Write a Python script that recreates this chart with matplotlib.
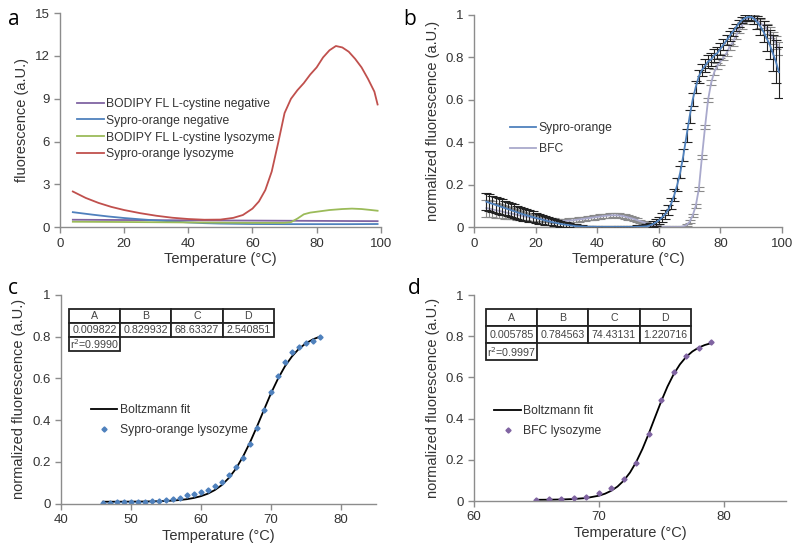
import numpy as np
import matplotlib
matplotlib.use("Agg")
import matplotlib.pyplot as plt

plt.rcParams['font.family'] = ['Liberation Sans', 'DejaVu Sans']

# ---- panel a: raw fluorescence ----
t_red = [4, 8, 12, 16, 20, 25, 30, 35, 40, 45, 50, 54, 57, 60, 62, 64, 66, 68, 70, 72,
         74, 76, 78, 80, 82, 84, 86, 88, 90, 92, 94, 96, 98, 99]
sypro_lys = [2.5, 2.05, 1.7, 1.42, 1.2, 0.98, 0.8, 0.66, 0.57, 0.52, 0.53, 0.65, 0.85, 1.3,
             1.8, 2.6, 3.9, 5.9, 8.0, 9.0, 9.6, 10.1, 10.7, 11.2, 11.9, 12.4, 12.7, 12.6,
             12.3, 11.8, 11.2, 10.4, 9.5, 8.6]
t_blue = [4, 10, 15, 20, 25, 30, 35, 40, 45, 50, 60, 70, 80, 90, 99]
sypro_neg = [1.05, 0.88, 0.75, 0.64, 0.55, 0.47, 0.4, 0.33, 0.28, 0.25, 0.22, 0.21, 0.21, 0.21, 0.22]
t_purple = [4, 20, 40, 60, 80, 99]
bodipy_neg = [0.52, 0.5, 0.48, 0.46, 0.44, 0.42]
t_green = [4, 20, 40, 60, 70, 72, 74, 76, 78, 80, 84, 88, 91, 94, 97, 99]
bodipy_lys = [0.38, 0.36, 0.33, 0.3, 0.3, 0.35, 0.6, 0.9, 1.02, 1.08, 1.2, 1.27, 1.3, 1.27, 1.2, 1.15]

# ---- panel b: normalized, mean +- error, 4..99 C ----
t_b = list(range(4, 100))
sypro_b = [0.12, 0.115, 0.11, 0.105, 0.10, 0.095, 0.09, 0.085, 0.08, 0.075, 0.07, 0.065,
           0.06, 0.056, 0.052, 0.048, 0.044, 0.04, 0.036, 0.032, 0.028, 0.025, 0.022, 0.019,
           0.016, 0.013, 0.011, 0.009, 0.007, 0.005, 0.004, 0.003,
           0.002, 0.002, 0.002, 0.002, 0.001, 0.001, 0.001, 0.001, 0.001, 0.001,
           0.001, 0.001, 0.001, 0.001, 0.001, 0.001, 0.001, 0.002, 0.002, 0.003,
           0.004, 0.008, 0.014, 0.022, 0.032, 0.045, 0.06, 0.08, 0.11, 0.15, 0.2, 0.26,
           0.34, 0.43, 0.52, 0.6, 0.66, 0.71, 0.74, 0.76, 0.78, 0.79, 0.81, 0.82, 0.84,
           0.86, 0.88, 0.9, 0.92, 0.94, 0.96, 0.975, 0.985, 0.99, 0.99, 0.98, 0.965,
           0.945, 0.92, 0.89, 0.86, 0.82, 0.78, 0.73]
sypro_err = [0.04, 0.04, 0.039, 0.038, 0.037, 0.036, 0.035, 0.034, 0.033, 0.032, 0.031,
             0.03, 0.029, 0.028, 0.027, 0.026, 0.025, 0.024, 0.022, 0.02, 0.018, 0.016,
             0.015, 0.014, 0.013, 0.012, 0.011, 0.01, 0.009, 0.008, 0.007, 0.006,
             0.005, 0.005, 0.005, 0.005, 0.005, 0.005, 0.005, 0.005, 0.005, 0.005,
             0.005, 0.005, 0.005, 0.005, 0.005, 0.005, 0.005, 0.006, 0.007, 0.008,
             0.01, 0.012, 0.014, 0.016, 0.018, 0.02, 0.022, 0.024, 0.026, 0.028, 0.03,
             0.03, 0.03, 0.03, 0.03, 0.03, 0.03, 0.03, 0.03, 0.03, 0.03, 0.03, 0.03,
             0.03, 0.028, 0.026, 0.024, 0.022, 0.02, 0.018, 0.016, 0.015, 0.015, 0.015,
             0.02, 0.025, 0.03, 0.04, 0.05, 0.06, 0.07, 0.085, 0.1, 0.12]
bfc_b = [0.09, 0.087, 0.084, 0.08, 0.077, 0.074, 0.07, 0.067, 0.064, 0.061, 0.058, 0.055,
         0.052, 0.049, 0.046, 0.044, 0.042, 0.04, 0.038, 0.036, 0.034, 0.032, 0.031, 0.03,
         0.03, 0.03, 0.03, 0.031, 0.032, 0.034, 0.036, 0.038, 0.04, 0.042, 0.044, 0.046,
         0.048, 0.05, 0.052, 0.054, 0.055, 0.056, 0.056, 0.055, 0.053, 0.05, 0.046,
         0.042, 0.038, 0.033, 0.028, 0.023, 0.018, 0.013, 0.009, 0.006, 0.003, 0.002,
         0.001, 0.001, 0.001, 0.001, 0.001, 0.001, 0.004, 0.01, 0.025, 0.055, 0.1, 0.18,
         0.33, 0.47, 0.6, 0.68, 0.73, 0.76, 0.78, 0.8, 0.82, 0.85, 0.87, 0.9, 0.93, 0.95,
         0.97, 0.985, 0.99, 0.985, 0.975, 0.96, 0.95, 0.935, 0.915, 0.89, 0.87, 0.84]
bfc_err = [0.04, 0.039, 0.038, 0.036, 0.034, 0.032, 0.03, 0.028, 0.026, 0.024, 0.022,
           0.02, 0.018, 0.016, 0.015, 0.014, 0.013, 0.012, 0.011, 0.01, 0.01, 0.01, 0.01,
           0.01, 0.01, 0.01, 0.01, 0.01, 0.01, 0.01, 0.01, 0.01, 0.01, 0.01, 0.01, 0.01,
           0.01, 0.01, 0.01, 0.01, 0.01, 0.01, 0.01, 0.01, 0.01, 0.01, 0.01, 0.01, 0.01,
           0.008, 0.007, 0.006, 0.005, 0.004, 0.003, 0.003, 0.003, 0.003, 0.003, 0.003,
           0.003, 0.003, 0.003, 0.003, 0.003, 0.005, 0.007, 0.008, 0.01, 0.01, 0.01, 0.01,
           0.01, 0.012, 0.014, 0.015, 0.015, 0.015, 0.015, 0.015, 0.015, 0.015, 0.015,
           0.015, 0.015, 0.015, 0.015, 0.015, 0.018, 0.02, 0.022, 0.024, 0.026, 0.028,
           0.03, 0.03]

# ---- panel c: Sypro-orange lysozyme + Boltzmann fit ----
t_c = list(range(46, 78))
sypro_c = [0.005, 0.006, 0.007, 0.008, 0.008, 0.009, 0.01, 0.012, 0.015, 0.018, 0.025,
           0.03, 0.041, 0.049, 0.056, 0.068, 0.084, 0.105, 0.137, 0.175, 0.22, 0.285,
           0.363, 0.447, 0.533, 0.61, 0.68, 0.724, 0.75, 0.77, 0.78, 0.796]
fit_c = [0.0099, 0.010, 0.010, 0.0102, 0.0104, 0.0106, 0.011, 0.0116, 0.0124, 0.0136,
         0.0155, 0.0182, 0.0221, 0.028, 0.0364, 0.0485, 0.066, 0.090, 0.124, 0.168,
         0.225, 0.293, 0.369, 0.449, 0.528, 0.598, 0.658, 0.705, 0.742, 0.768, 0.787, 0.800]
tab_c = [["A", "B", "C", "D"],
         ["0.009822", "0.829932", "68.63327", "2.540851"],
         ["r$^2$=0.9990", "", "", ""]]

# ---- panel d: BFC lysozyme + Boltzmann fit ----
t_d = list(range(65, 80))
bfc_d = [0.006, 0.008, 0.01, 0.013, 0.021, 0.037, 0.065, 0.107, 0.186, 0.326, 0.493,
         0.627, 0.704, 0.745, 0.774]
t_fit_d = [65, 66, 67, 68, 69, 70, 70.5, 71, 71.5, 72, 72.5, 73, 73.5, 74, 74.5, 75,
           75.5, 76, 76.5, 77, 77.5, 78, 78.5, 79]
fit_d = [0.0061, 0.0066, 0.0076, 0.0098, 0.0148, 0.0259, 0.0357, 0.050, 0.0705, 0.0993,
         0.1385, 0.190, 0.2534, 0.327, 0.406, 0.484, 0.5555, 0.616, 0.6636, 0.700,
         0.7262, 0.745, 0.7577, 0.7665]
tab_d = [["A", "B", "C", "D"],
         ["0.005785", "0.784563", "74.43131", "1.220716"],
         ["r$^2$=0.9997", "", "", ""]]

fig = plt.figure(figsize=(8, 5.5), dpi=100)
ax_a = fig.add_axes([0.075, 0.587, 0.401, 0.389])
ax_b = fig.add_axes([0.5925, 0.587, 0.385, 0.386])
ax_c = fig.add_axes([0.076, 0.084, 0.394, 0.38])
ax_d = fig.add_axes([0.5925, 0.089, 0.39, 0.3745])

axis_col = '#8c8c8c'


def style(ax):
    for s in ['top', 'right']:
        ax.spines[s].set_visible(False)
    for s in ['left', 'bottom']:
        ax.spines[s].set_color(axis_col)
        ax.spines[s].set_linewidth(1.0)
    ax.tick_params(direction='out', length=4, width=1, color=axis_col,
                   labelsize=9.5, labelcolor='#333333')
    ax.set_xlabel('Temperature (°C)', fontsize=10.5, color='#333333', labelpad=2)


def add_table(ax, rows, bbox):
    tb = ax.table(cellText=rows, cellLoc='center', bbox=bbox)
    tb.auto_set_font_size(False)
    tb.set_fontsize(7.7)
    for (r, c), cell in tb.get_celld().items():
        cell.set_linewidth(1.3)
        cell.set_edgecolor('#222222')
        cell.get_text().set_color('#444444')
        if r == 2 and c > 0:
            cell.set_visible(False)
    return tb


# panel a
ax_a.plot(t_purple, bodipy_neg, color='#8064A2', lw=1.3, label='BODIPY FL L-cystine negative')
ax_a.plot(t_blue, sypro_neg, color='#4F81BD', lw=1.3, label='Sypro-orange negative')
ax_a.plot(t_green, bodipy_lys, color='#9BBB59', lw=1.3, label='BODIPY FL L-cystine lysozyme')
ax_a.plot(t_red, sypro_lys, color='#C0504D', lw=1.3, label='Sypro-orange lysozyme')
ax_a.set_xlim(0, 100)
ax_a.set_ylim(0, 15)
ax_a.set_xticks(range(0, 101, 20))
ax_a.set_yticks(range(0, 16, 3))
ax_a.set_ylabel('fluorescence (a.U.)', fontsize=10.5, color='#333333', labelpad=4)
style(ax_a)
ax_a.legend(loc='upper left', bbox_to_anchor=(0.02, 0.655), frameon=False, fontsize=8.7,
            handlelength=2.2, handletextpad=0.2, labelspacing=0.4, labelcolor='#333333')

# panel b
ax_b.errorbar(t_b, bfc_b, yerr=bfc_err, color='#A9A9CC', ecolor='#8a8a8a', elinewidth=0.8,
              capsize=3.5, capthick=0.8, lw=1.3, label='BFC', zorder=2)
ax_b.errorbar(t_b, sypro_b, yerr=sypro_err, color='#4F81BD', ecolor='#222222', elinewidth=0.8,
              capsize=3.5, capthick=0.8, lw=1.3, label='Sypro-orange', zorder=3)
ax_b.set_xlim(0, 100)
ax_b.set_ylim(0, 1)
ax_b.set_xticks(range(0, 101, 20))
ax_b.set_yticks([0, 0.2, 0.4, 0.6, 0.8, 1])
ax_b.set_yticklabels(['0', '0.2', '0.4', '0.6', '0.8', '1'])
ax_b.set_ylabel('normalized fluorescence (a.U.)', fontsize=10.5, color='#333333', labelpad=4)
style(ax_b)
hb = [plt.Line2D([], [], color='#4F81BD', lw=1.3), plt.Line2D([], [], color='#A9A9CC', lw=1.3)]
ax_b.legend(hb, ['Sypro-orange', 'BFC'], loc='upper left', bbox_to_anchor=(0.08, 0.545),
            frameon=False, fontsize=8.7, handlelength=2.2, handletextpad=0.2,
            labelspacing=0.7, labelcolor='#333333')

# panel c
ax_c.plot(t_c, fit_c, color='black', lw=1.3, label='Boltzmann fit')
ax_c.plot(t_c, sypro_c, 'D', color='#4F81BD', ms=2.6, ls='none', label='Sypro-orange lysozyme')
ax_c.set_xlim(40, 85)
ax_c.set_ylim(0, 1)
ax_c.set_xticks(range(40, 81, 10))
ax_c.set_yticks([0, 0.2, 0.4, 0.6, 0.8, 1])
ax_c.set_yticklabels(['0', '0.2', '0.4', '0.6', '0.8', '1'])
ax_c.set_ylabel('normalized fluorescence (a.U.)', fontsize=10.5, color='#333333', labelpad=4)
style(ax_c)
ax_c.legend(loc='upper left', bbox_to_anchor=(0.06, 0.53), frameon=False, fontsize=8.7,
            handlelength=2.2, handletextpad=0.2, labelspacing=0.7, labelcolor='#333333')
add_table(ax_c, tab_c, [0.025, 0.732, 0.651, 0.201])

# panel d
ax_d.plot(t_fit_d, fit_d, color='black', lw=1.3, label='Boltzmann fit')
ax_d.plot(t_d, bfc_d, 'D', color='#8064A2', ms=2.6, ls='none', label='BFC lysozyme')
ax_d.set_xlim(60, 85)
ax_d.set_ylim(0, 1)
ax_d.set_xticks([60, 70, 80])
ax_d.set_yticks([0, 0.2, 0.4, 0.6, 0.8, 1])
ax_d.set_yticklabels(['0', '0.2', '0.4', '0.6', '0.8', '1'])
ax_d.set_ylabel('normalized fluorescence (a.U.)', fontsize=10.5, color='#333333', labelpad=4)
style(ax_d)
ax_d.legend(loc='upper left', bbox_to_anchor=(0.03, 0.52), frameon=False, fontsize=8.7,
            handlelength=2.2, handletextpad=0.2, labelspacing=0.7, labelcolor='#333333')
add_table(ax_d, tab_d, [0.038, 0.684, 0.657, 0.248])

# panel letters
for x, y, s in [(0.01, 0.955, 'a'), (0.504, 0.955, 'b'), (0.01, 0.465, 'c'), (0.51, 0.465, 'd')]:
    fig.text(x, y, s, fontsize=15, family=['Open Sans', 'DejaVu Sans'])

fig.savefig('out.png', dpi=100)
